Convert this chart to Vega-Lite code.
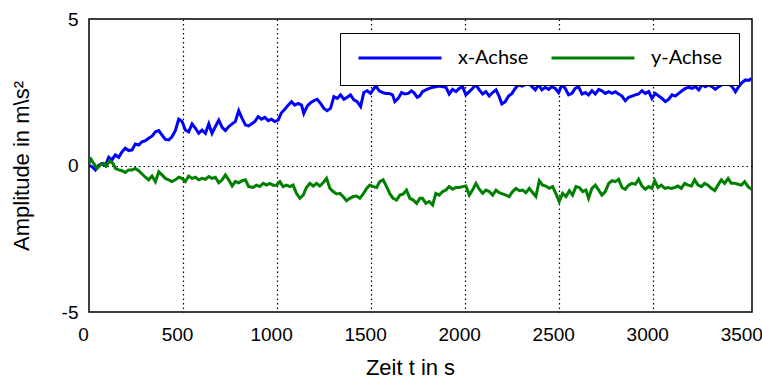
{
  "$schema": "https://vega.github.io/schema/vega-lite/v6.json",
  "width": 663,
  "height": 293,
  "autosize": {"type": "none"},
  "padding": {"left": 89, "top": 19, "right": 10, "bottom": 67},
  "background": "white",
  "config": {
    "view": {"stroke": "black", "strokeWidth": 1.5},
    "font": "Liberation Sans"
  },
  "data": {
    "values": [
      {"t":0,"s":"x-Achse","v":0},{"t":16,"s":"x-Achse","v":-0.04},{"t":34,"s":"x-Achse","v":-0.15},{"t":51,"s":"x-Achse","v":0},{"t":69,"s":"x-Achse","v":0.07},{"t":87,"s":"x-Achse","v":0},{"t":105,"s":"x-Achse","v":0.28},{"t":122,"s":"x-Achse","v":0.19},{"t":140,"s":"x-Achse","v":0.36},{"t":158,"s":"x-Achse","v":0.28},{"t":176,"s":"x-Achse","v":0.47},{"t":193,"s":"x-Achse","v":0.59},{"t":211,"s":"x-Achse","v":0.51},{"t":229,"s":"x-Achse","v":0.53},{"t":246,"s":"x-Achse","v":0.73},{"t":264,"s":"x-Achse","v":0.70},{"t":282,"s":"x-Achse","v":0.81},{"t":300,"s":"x-Achse","v":0.85},{"t":317,"s":"x-Achse","v":0.93},{"t":335,"s":"x-Achse","v":1.0},{"t":353,"s":"x-Achse","v":1.15},{"t":371,"s":"x-Achse","v":1.19},{"t":388,"s":"x-Achse","v":1.04},{"t":406,"s":"x-Achse","v":0.89},{"t":424,"s":"x-Achse","v":0.87},{"t":441,"s":"x-Achse","v":0.98},{"t":459,"s":"x-Achse","v":1.19},{"t":477,"s":"x-Achse","v":1.58},{"t":495,"s":"x-Achse","v":1.50},{"t":512,"s":"x-Achse","v":1.21},{"t":530,"s":"x-Achse","v":1.15},{"t":548,"s":"x-Achse","v":1.42},{"t":566,"s":"x-Achse","v":1.27},{"t":583,"s":"x-Achse","v":1.10},{"t":601,"s":"x-Achse","v":1.21},{"t":619,"s":"x-Achse","v":1.10},{"t":637,"s":"x-Achse","v":1.42},{"t":654,"s":"x-Achse","v":1.10},{"t":672,"s":"x-Achse","v":1.33},{"t":690,"s":"x-Achse","v":1.55},{"t":708,"s":"x-Achse","v":1.30},{"t":725,"s":"x-Achse","v":1.19},{"t":743,"s":"x-Achse","v":1.33},{"t":761,"s":"x-Achse","v":1.42},{"t":778,"s":"x-Achse","v":1.50},{"t":796,"s":"x-Achse","v":1.87},{"t":814,"s":"x-Achse","v":1.61},{"t":832,"s":"x-Achse","v":1.38},{"t":849,"s":"x-Achse","v":1.35},
      {"t":864,"s":"x-Achse","v":1.42},{"t":882,"s":"x-Achse","v":1.50},{"t":899,"s":"x-Achse","v":1.67},{"t":917,"s":"x-Achse","v":1.58},{"t":935,"s":"x-Achse","v":1.64},{"t":953,"s":"x-Achse","v":1.53},{"t":970,"s":"x-Achse","v":1.58},{"t":988,"s":"x-Achse","v":1.50},{"t":1006,"s":"x-Achse","v":1.55},{"t":1023,"s":"x-Achse","v":1.80},{"t":1041,"s":"x-Achse","v":1.92},{"t":1059,"s":"x-Achse","v":2.06},{"t":1077,"s":"x-Achse","v":2.18},{"t":1094,"s":"x-Achse","v":2.06},{"t":1112,"s":"x-Achse","v":2.12},{"t":1130,"s":"x-Achse","v":2.06},{"t":1142,"s":"x-Achse","v":1.78},{"t":1160,"s":"x-Achse","v":2.03},{"t":1178,"s":"x-Achse","v":2.14},{"t":1195,"s":"x-Achse","v":2.21},{"t":1213,"s":"x-Achse","v":2.26},{"t":1231,"s":"x-Achse","v":2.12},{"t":1249,"s":"x-Achse","v":1.95},{"t":1266,"s":"x-Achse","v":1.87},{"t":1284,"s":"x-Achse","v":1.95},{"t":1302,"s":"x-Achse","v":2.35},{"t":1320,"s":"x-Achse","v":2.29},{"t":1337,"s":"x-Achse","v":2.41},{"t":1355,"s":"x-Achse","v":2.26},{"t":1373,"s":"x-Achse","v":2.33},{"t":1390,"s":"x-Achse","v":2.41},{"t":1408,"s":"x-Achse","v":2.24},{"t":1426,"s":"x-Achse","v":2.18},{"t":1444,"s":"x-Achse","v":2.01},{"t":1461,"s":"x-Achse","v":2.49},{"t":1479,"s":"x-Achse","v":2.55},{"t":1497,"s":"x-Achse","v":2.46},{"t":1515,"s":"x-Achse","v":2.63},{"t":1525,"s":"x-Achse","v":2.71},{"t":1543,"s":"x-Achse","v":2.55},{"t":1561,"s":"x-Achse","v":2.49},{"t":1578,"s":"x-Achse","v":2.46},{"t":1596,"s":"x-Achse","v":2.46},{"t":1614,"s":"x-Achse","v":2.41},{"t":1626,"s":"x-Achse","v":2.18},{"t":1644,"s":"x-Achse","v":2.29},{"t":1662,"s":"x-Achse","v":2.49},{"t":1679,"s":"x-Achse","v":2.44},{"t":1697,"s":"x-Achse","v":2.46},{"t":1715,"s":"x-Achse","v":2.55},{"t":1727,"s":"x-Achse","v":2.49},{"t":1745,"s":"x-Achse","v":2.33},{"t":1759,"s":"x-Achse","v":2.38},
      {"t":1773,"s":"x-Achse","v":2.52},{"t":1791,"s":"x-Achse","v":2.58},{"t":1809,"s":"x-Achse","v":2.63},{"t":1827,"s":"x-Achse","v":2.67},{"t":1844,"s":"x-Achse","v":2.69},{"t":1862,"s":"x-Achse","v":2.71},{"t":1880,"s":"x-Achse","v":2.69},{"t":1898,"s":"x-Achse","v":2.67},{"t":1915,"s":"x-Achse","v":2.44},{"t":1933,"s":"x-Achse","v":2.60},{"t":1951,"s":"x-Achse","v":2.52},{"t":1968,"s":"x-Achse","v":2.63},{"t":1986,"s":"x-Achse","v":2.69},{"t":2004,"s":"x-Achse","v":2.41},{"t":2022,"s":"x-Achse","v":2.52},{"t":2039,"s":"x-Achse","v":2.63},{"t":2057,"s":"x-Achse","v":2.76},{"t":2075,"s":"x-Achse","v":2.58},{"t":2093,"s":"x-Achse","v":2.44},{"t":2110,"s":"x-Achse","v":2.52},{"t":2128,"s":"x-Achse","v":2.37},{"t":2146,"s":"x-Achse","v":2.49},{"t":2164,"s":"x-Achse","v":2.58},{"t":2181,"s":"x-Achse","v":2.35},{"t":2195,"s":"x-Achse","v":2.10},{"t":2213,"s":"x-Achse","v":2.18},{"t":2231,"s":"x-Achse","v":2.37},{"t":2249,"s":"x-Achse","v":2.46},{"t":2266,"s":"x-Achse","v":2.63},{"t":2284,"s":"x-Achse","v":2.76},{"t":2302,"s":"x-Achse","v":2.71},{"t":2320,"s":"x-Achse","v":2.76},{"t":2337,"s":"x-Achse","v":2.80},{"t":2355,"s":"x-Achse","v":2.69},{"t":2373,"s":"x-Achse","v":2.58},{"t":2390,"s":"x-Achse","v":2.76},{"t":2408,"s":"x-Achse","v":2.58},{"t":2426,"s":"x-Achse","v":2.67},{"t":2444,"s":"x-Achse","v":2.60},{"t":2461,"s":"x-Achse","v":2.69},{"t":2479,"s":"x-Achse","v":2.63},{"t":2497,"s":"x-Achse","v":2.49},{"t":2515,"s":"x-Achse","v":2.76},{"t":2532,"s":"x-Achse","v":2.63},{"t":2550,"s":"x-Achse","v":2.41},{"t":2568,"s":"x-Achse","v":2.46},{"t":2585,"s":"x-Achse","v":2.63},{"t":2603,"s":"x-Achse","v":2.69},{"t":2621,"s":"x-Achse","v":2.44},{"t":2639,"s":"x-Achse","v":2.49},
      {"t":2656,"s":"x-Achse","v":2.41},{"t":2674,"s":"x-Achse","v":2.55},{"t":2692,"s":"x-Achse","v":2.44},{"t":2710,"s":"x-Achse","v":2.60},{"t":2727,"s":"x-Achse","v":2.55},{"t":2745,"s":"x-Achse","v":2.46},{"t":2763,"s":"x-Achse","v":2.52},{"t":2781,"s":"x-Achse","v":2.46},{"t":2798,"s":"x-Achse","v":2.52},{"t":2816,"s":"x-Achse","v":2.44},{"t":2834,"s":"x-Achse","v":2.37},{"t":2851,"s":"x-Achse","v":2.21},{"t":2869,"s":"x-Achse","v":2.33},{"t":2887,"s":"x-Achse","v":2.37},{"t":2905,"s":"x-Achse","v":2.41},{"t":2922,"s":"x-Achse","v":2.44},{"t":2940,"s":"x-Achse","v":2.55},{"t":2958,"s":"x-Achse","v":2.46},{"t":2976,"s":"x-Achse","v":2.52},{"t":2993,"s":"x-Achse","v":2.29},{"t":3011,"s":"x-Achse","v":2.46},{"t":3029,"s":"x-Achse","v":2.37},{"t":3047,"s":"x-Achse","v":2.29},{"t":3064,"s":"x-Achse","v":2.18},{"t":3082,"s":"x-Achse","v":2.26},{"t":3100,"s":"x-Achse","v":2.41},{"t":3117,"s":"x-Achse","v":2.37},{"t":3135,"s":"x-Achse","v":2.46},{"t":3153,"s":"x-Achse","v":2.55},{"t":3171,"s":"x-Achse","v":2.63},{"t":3188,"s":"x-Achse","v":2.67},{"t":3206,"s":"x-Achse","v":2.63},{"t":3224,"s":"x-Achse","v":2.69},{"t":3242,"s":"x-Achse","v":2.58},{"t":3259,"s":"x-Achse","v":2.76},{"t":3277,"s":"x-Achse","v":2.69},{"t":3295,"s":"x-Achse","v":2.76},{"t":3312,"s":"x-Achse","v":2.69},{"t":3330,"s":"x-Achse","v":2.60},{"t":3348,"s":"x-Achse","v":2.69},{"t":3366,"s":"x-Achse","v":2.76},{"t":3383,"s":"x-Achse","v":2.80},{"t":3401,"s":"x-Achse","v":2.78},{"t":3419,"s":"x-Achse","v":2.69},{"t":3437,"s":"x-Achse","v":2.52},{"t":3454,"s":"x-Achse","v":2.69},{"t":3472,"s":"x-Achse","v":2.83},{"t":3490,"s":"x-Achse","v":2.92},{"t":3508,"s":"x-Achse","v":2.90},{"t":3522,"s":"x-Achse","v":2.97},
      {"t":0,"s":"y-Achse","v":0.07},{"t":11,"s":"y-Achse","v":0.21},{"t":25,"s":"y-Achse","v":0.07},{"t":43,"s":"y-Achse","v":-0.1},{"t":60,"s":"y-Achse","v":0.02},{"t":78,"s":"y-Achse","v":0.07},{"t":92,"s":"y-Achse","v":-0.02},{"t":110,"s":"y-Achse","v":0.16},{"t":128,"s":"y-Achse","v":0.07},{"t":140,"s":"y-Achse","v":-0.1},{"t":158,"s":"y-Achse","v":-0.15},{"t":176,"s":"y-Achse","v":-0.18},{"t":193,"s":"y-Achse","v":-0.24},{"t":211,"s":"y-Achse","v":-0.15},{"t":229,"s":"y-Achse","v":-0.15},{"t":246,"s":"y-Achse","v":-0.1},{"t":264,"s":"y-Achse","v":-0.18},{"t":282,"s":"y-Achse","v":-0.29},{"t":300,"s":"y-Achse","v":-0.40},{"t":317,"s":"y-Achse","v":-0.49},{"t":335,"s":"y-Achse","v":-0.36},{"t":353,"s":"y-Achse","v":-0.55},{"t":371,"s":"y-Achse","v":-0.21},{"t":388,"s":"y-Achse","v":-0.32},{"t":406,"s":"y-Achse","v":-0.44},{"t":424,"s":"y-Achse","v":-0.49},{"t":441,"s":"y-Achse","v":-0.55},{"t":459,"s":"y-Achse","v":-0.49},{"t":477,"s":"y-Achse","v":-0.40},{"t":495,"s":"y-Achse","v":-0.44},{"t":512,"s":"y-Achse","v":-0.55},{"t":530,"s":"y-Achse","v":-0.36},{"t":548,"s":"y-Achse","v":-0.44},{"t":566,"s":"y-Achse","v":-0.40},{"t":583,"s":"y-Achse","v":-0.49},{"t":601,"s":"y-Achse","v":-0.44},{"t":619,"s":"y-Achse","v":-0.47},{"t":637,"s":"y-Achse","v":-0.38},{"t":654,"s":"y-Achse","v":-0.44},{"t":672,"s":"y-Achse","v":-0.40},{"t":690,"s":"y-Achse","v":-0.59},{"t":708,"s":"y-Achse","v":-0.49},{"t":725,"s":"y-Achse","v":-0.32},{"t":743,"s":"y-Achse","v":-0.49},{"t":761,"s":"y-Achse","v":-0.70},{"t":778,"s":"y-Achse","v":-0.55},{"t":796,"s":"y-Achse","v":-0.59},{"t":814,"s":"y-Achse","v":-0.52},{"t":832,"s":"y-Achse","v":-0.49},{"t":849,"s":"y-Achse","v":-0.72},
      {"t":873,"s":"y-Achse","v":-0.75},{"t":890,"s":"y-Achse","v":-0.67},{"t":908,"s":"y-Achse","v":-0.72},{"t":926,"s":"y-Achse","v":-0.61},{"t":944,"s":"y-Achse","v":-0.67},{"t":961,"s":"y-Achse","v":-0.61},{"t":979,"s":"y-Achse","v":-0.67},{"t":997,"s":"y-Achse","v":-0.67},{"t":1015,"s":"y-Achse","v":-0.55},{"t":1032,"s":"y-Achse","v":-0.72},{"t":1050,"s":"y-Achse","v":-0.67},{"t":1068,"s":"y-Achse","v":-0.72},{"t":1085,"s":"y-Achse","v":-0.67},{"t":1103,"s":"y-Achse","v":-0.95},{"t":1121,"s":"y-Achse","v":-1.12},{"t":1139,"s":"y-Achse","v":-1.01},{"t":1156,"s":"y-Achse","v":-0.75},{"t":1174,"s":"y-Achse","v":-0.61},{"t":1192,"s":"y-Achse","v":-0.70},{"t":1210,"s":"y-Achse","v":-0.61},{"t":1227,"s":"y-Achse","v":-0.70},{"t":1245,"s":"y-Achse","v":-0.59},{"t":1263,"s":"y-Achse","v":-0.44},{"t":1281,"s":"y-Achse","v":-0.78},{"t":1298,"s":"y-Achse","v":-0.89},{"t":1316,"s":"y-Achse","v":-0.97},{"t":1334,"s":"y-Achse","v":-0.95},{"t":1351,"s":"y-Achse","v":-1.06},{"t":1369,"s":"y-Achse","v":-1.20},{"t":1387,"s":"y-Achse","v":-1.12},{"t":1405,"s":"y-Achse","v":-1.06},{"t":1422,"s":"y-Achse","v":-1.04},{"t":1440,"s":"y-Achse","v":-1.12},{"t":1458,"s":"y-Achse","v":-0.97},{"t":1476,"s":"y-Achse","v":-0.78},{"t":1493,"s":"y-Achse","v":-0.67},{"t":1511,"s":"y-Achse","v":-0.72},{"t":1529,"s":"y-Achse","v":-0.75},{"t":1546,"s":"y-Achse","v":-0.55},{"t":1564,"s":"y-Achse","v":-0.49},{"t":1582,"s":"y-Achse","v":-0.72},{"t":1600,"s":"y-Achse","v":-0.97},{"t":1617,"s":"y-Achse","v":-1.12},{"t":1635,"s":"y-Achse","v":-1.18},{"t":1653,"s":"y-Achse","v":-1.01},{"t":1671,"s":"y-Achse","v":-0.97},{"t":1688,"s":"y-Achse","v":-0.84},{"t":1706,"s":"y-Achse","v":-1.12},{"t":1724,"s":"y-Achse","v":-1.18},{"t":1742,"s":"y-Achse","v":-1.29},{"t":1759,"s":"y-Achse","v":-1.12},
      {"t":1773,"s":"y-Achse","v":-1.12},{"t":1791,"s":"y-Achse","v":-1.29},{"t":1809,"s":"y-Achse","v":-1.23},{"t":1827,"s":"y-Achse","v":-1.35},{"t":1844,"s":"y-Achse","v":-0.95},{"t":1862,"s":"y-Achse","v":-1.01},{"t":1880,"s":"y-Achse","v":-0.89},{"t":1898,"s":"y-Achse","v":-0.84},{"t":1915,"s":"y-Achse","v":-0.72},{"t":1933,"s":"y-Achse","v":-0.81},{"t":1951,"s":"y-Achse","v":-0.75},{"t":1968,"s":"y-Achse","v":-0.75},{"t":1986,"s":"y-Achse","v":-0.72},{"t":2004,"s":"y-Achse","v":-0.70},{"t":2022,"s":"y-Achse","v":-1.01},{"t":2039,"s":"y-Achse","v":-0.84},{"t":2057,"s":"y-Achse","v":-0.61},{"t":2075,"s":"y-Achse","v":-0.81},{"t":2093,"s":"y-Achse","v":-0.95},{"t":2110,"s":"y-Achse","v":-0.84},{"t":2128,"s":"y-Achse","v":-0.89},{"t":2146,"s":"y-Achse","v":-1.01},{"t":2164,"s":"y-Achse","v":-0.84},{"t":2181,"s":"y-Achse","v":-0.93},{"t":2199,"s":"y-Achse","v":-0.97},{"t":2217,"s":"y-Achse","v":-1.01},{"t":2234,"s":"y-Achse","v":-1.06},{"t":2252,"s":"y-Achse","v":-0.89},{"t":2270,"s":"y-Achse","v":-0.78},{"t":2288,"s":"y-Achse","v":-0.86},{"t":2305,"s":"y-Achse","v":-0.84},{"t":2323,"s":"y-Achse","v":-0.93},{"t":2341,"s":"y-Achse","v":-0.78},{"t":2359,"s":"y-Achse","v":-0.93},{"t":2376,"s":"y-Achse","v":-1.06},{"t":2394,"s":"y-Achse","v":-0.52},{"t":2412,"s":"y-Achse","v":-0.67},{"t":2429,"s":"y-Achse","v":-0.70},{"t":2447,"s":"y-Achse","v":-0.78},{"t":2465,"s":"y-Achse","v":-0.72},{"t":2483,"s":"y-Achse","v":-0.97},{"t":2500,"s":"y-Achse","v":-1.23},{"t":2518,"s":"y-Achse","v":-0.95},{"t":2536,"s":"y-Achse","v":-1.06},{"t":2554,"s":"y-Achse","v":-0.86},{"t":2571,"s":"y-Achse","v":-1.01},{"t":2589,"s":"y-Achse","v":-0.72},{"t":2607,"s":"y-Achse","v":-0.75},{"t":2625,"s":"y-Achse","v":-0.89},{"t":2642,"s":"y-Achse","v":-0.84},
      {"t":2656,"s":"y-Achse","v":-1.12},{"t":2674,"s":"y-Achse","v":-0.78},{"t":2692,"s":"y-Achse","v":-0.67},{"t":2710,"s":"y-Achse","v":-0.84},{"t":2727,"s":"y-Achse","v":-1.01},{"t":2745,"s":"y-Achse","v":-0.89},{"t":2763,"s":"y-Achse","v":-0.61},{"t":2781,"s":"y-Achse","v":-0.52},{"t":2798,"s":"y-Achse","v":-0.55},{"t":2816,"s":"y-Achse","v":-0.47},{"t":2834,"s":"y-Achse","v":-0.75},{"t":2851,"s":"y-Achse","v":-0.81},{"t":2869,"s":"y-Achse","v":-0.67},{"t":2887,"s":"y-Achse","v":-0.61},{"t":2905,"s":"y-Achse","v":-0.64},{"t":2922,"s":"y-Achse","v":-0.47},{"t":2940,"s":"y-Achse","v":-0.70},{"t":2958,"s":"y-Achse","v":-0.81},{"t":2976,"s":"y-Achse","v":-0.72},{"t":2993,"s":"y-Achse","v":-0.78},{"t":3008,"s":"y-Achse","v":-0.52},{"t":3025,"s":"y-Achse","v":-0.75},{"t":3043,"s":"y-Achse","v":-0.67},{"t":3061,"s":"y-Achse","v":-0.78},{"t":3078,"s":"y-Achse","v":-0.75},{"t":3096,"s":"y-Achse","v":-0.78},{"t":3114,"s":"y-Achse","v":-0.75},{"t":3132,"s":"y-Achse","v":-0.70},{"t":3149,"s":"y-Achse","v":-0.78},{"t":3167,"s":"y-Achse","v":-0.61},{"t":3185,"s":"y-Achse","v":-0.67},{"t":3203,"s":"y-Achse","v":-0.70},{"t":3220,"s":"y-Achse","v":-0.49},{"t":3238,"s":"y-Achse","v":-0.67},{"t":3256,"s":"y-Achse","v":-0.72},{"t":3273,"s":"y-Achse","v":-0.61},{"t":3291,"s":"y-Achse","v":-0.67},{"t":3309,"s":"y-Achse","v":-0.78},{"t":3327,"s":"y-Achse","v":-0.86},{"t":3344,"s":"y-Achse","v":-0.67},{"t":3362,"s":"y-Achse","v":-0.49},{"t":3380,"s":"y-Achse","v":-0.61},{"t":3398,"s":"y-Achse","v":-0.44},{"t":3415,"s":"y-Achse","v":-0.61},{"t":3433,"s":"y-Achse","v":-0.61},{"t":3451,"s":"y-Achse","v":-0.64},{"t":3469,"s":"y-Achse","v":-0.67},{"t":3486,"s":"y-Achse","v":-0.55},{"t":3504,"s":"y-Achse","v":-0.72},{"t":3522,"s":"y-Achse","v":-0.81}
    ]
  },
  "mark": {"type": "line", "strokeWidth": 3, "clip": true},
  "encoding": {
    "x": {
      "field": "t",
      "type": "quantitative",
      "scale": {"domain": [0, 3525], "nice": false, "zero": false},
      "axis": {
        "values": [0, 500, 1000, 1500, 2000, 2500, 3000, 3500],
        "labelExpr": "'' + datum.value",
        "title": "Zeit t in s",
        "domain": false,
        "grid": true,
        "gridColor": "black",
        "gridDash": [1.5, 3],
        "gridWidth": 1.2,
        "gridOpacity": {"condition": {"test": "datum.value >= 3500 || datum.value <= 0", "value": 0}, "value": 1},
        "ticks": false,
        "labelFlush": false,
        "labelFont": "Liberation Sans",
        "labelFontSize": 19,
        "labelColor": "black",
        "labelPadding": 13,
        "labelOffset": -6,
        "titleFont": "Liberation Sans",
        "titleFontSize": 22,
        "titleFontWeight": "normal",
        "titleColor": "black",
        "titleX": 321,
        "titlePadding": 13
      }
    },
    "y": {
      "field": "v",
      "type": "quantitative",
      "scale": {"domain": [-5, 5], "nice": false},
      "axis": {
        "values": [-5, 0, 5],
        "labelExpr": "'' + datum.value",
        "title": "Amplitude in m\\s²",
        "domain": false,
        "grid": true,
        "gridColor": "black",
        "gridDash": [1.5, 3],
        "gridWidth": 1.2,
        "gridOpacity": {"condition": {"test": "datum.value !== 0", "value": 0}, "value": 1},
        "ticks": false,
        "labelFlush": false,
        "labelFont": "Liberation Sans",
        "labelFontSize": 19,
        "labelColor": "black",
        "labelPadding": 11,
        "titleFont": "Liberation Sans",
        "titleFontSize": 22,
        "titleFontWeight": "normal",
        "titleColor": "black",
        "titlePadding": 28
      }
    },
    "color": {
      "field": "s",
      "type": "nominal",
      "scale": {"domain": ["x-Achse", "y-Achse"], "range": ["#0000ff", "#008000"]},
      "legend": {
        "orient": "none",
        "legendX": 251,
        "legendY": 14,
        "direction": "horizontal",
        "title": null,
        "symbolType": "stroke",
        "symbolSize": 6889,
        "symbolStrokeWidth": 3,
        "clipHeight": 16,
        "labelFont": "Lato",
        "labelFontSize": 20,
        "labelColor": "black",
        "labelOffset": 15,
        "labelLimit": 0,
        "columnPadding": 21,
        "padding": 17,
        "strokeColor": "black",
        "fillColor": "white",
        "cornerRadius": 0
      }
    }
  }
}
